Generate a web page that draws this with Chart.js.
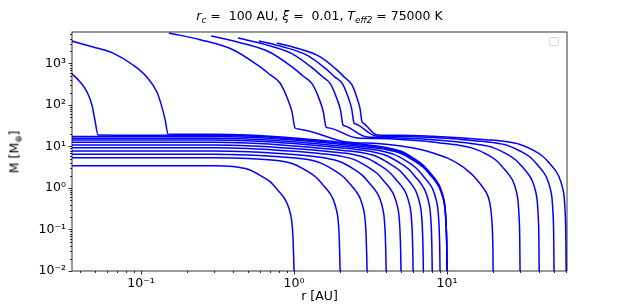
<!DOCTYPE html>
<html>
<head>
<meta charset="utf-8">
<script src="https://cdn.jsdelivr.net/npm/chart.js@4.4.1/dist/chart.umd.min.js"></script>
<style>
  body { margin: 0; background: #fff; }
  #wrap { position: relative; width: 622px; height: 306px; font-family: 'DejaVu Sans', sans-serif; color: #000; }
  #title { position: absolute; left: 72px; width: 495px; top: 8px; text-align: center; font-size: 12.5px; white-space: nowrap; }
  #ylab { position: absolute; left: 14px; top: 152px; transform: translate(-50%, -50%) rotate(-90deg); font-size: 12.5px; white-space: nowrap; }
  sub { font-size: 70%; vertical-align: -0.3em; line-height: 0; }
</style>
</head>
<body>
<div id="wrap">
  <canvas id="myChart" width="622" height="306"></canvas>
  <div id="title"><i>r<sub>c</sub></i> = &nbsp;100 AU, <i>ξ</i> = &nbsp;0.01, <i>T<sub>eff2</sub></i> = 75000 K</div>
  <div id="ylab">M [M<sub>⊕</sub>]</div>
</div>
<script>
// axis ranges and tick labels
const xRange = [0.0354, 60.8];
const yRange = [0.01, 5740];
const xTicks = [0.1, 1, 10];
const xTickLabels = ['10⁻¹', '10⁰', '10¹'];
const yTicks = [0.01, 0.1, 1, 10, 100, 1000];
const yTickLabels = ['10⁻²', '10⁻¹', '10⁰', '10¹', '10²', '10³'];

// tracks [r (AU), M (M_earth)]
// low-mass tracks, final r = 1 ... 10 AU
const m1 = [[0.035,3.45],[0.3,3.45],[0.4,3.28],[0.5,2.82],[0.6,2.02],[0.7,1.40],[0.78,0.90],[0.85,0.62],[0.9,0.43],[0.95,0.23],[0.97,0.14],[0.985,0.062],[0.995,0.020],[1,0.01]];
const m2 = [[0.035,5.37],[0.3,5.37],[0.5,5.16],[0.8,4.53],[1.0,3.74],[1.2,2.64],[1.4,1.79],[1.56,1.14],[1.7,0.78],[1.8,0.54],[1.9,0.28],[1.94,0.176],[1.97,0.077],[1.99,0.024],[2,0.01]];
const m3 = [[0.035,6.49],[0.3,6.49],[0.5,6.23],[0.8,5.65],[1.2,4.91],[1.5,3.97],[1.8,2.76],[2.1,1.87],[2.34,1.21],[2.55,0.82],[2.7,0.57],[2.85,0.30],[2.91,0.184],[2.955,0.080],[2.985,0.025],[3,0.01]];
const m4 = [[0.035,7.79],[0.3,7.79],[0.5,7.48],[1.0,6.39],[1.6,5.29],[2.0,4.30],[2.4,3.02],[2.8,2.02],[3.12,1.29],[3.4,0.875],[3.6,0.61],[3.8,0.32],[3.88,0.197],[3.94,0.086],[3.98,0.027],[4,0.01]];
const m5 = [[0.035,9.35],[0.3,9.35],[0.5,8.98],[1.0,7.67],[1.5,6.73],[2.0,5.90],[2.5,4.77],[3.0,3.30],[3.5,2.23],[3.9,1.42],[4.25,0.96],[4.5,0.67],[4.75,0.35],[4.85,0.218],[4.925,0.095],[4.975,0.030],[5,0.01]];
const m6 = [[0.035,10.9],[0.3,10.9],[0.5,10.46],[1.0,8.94],[1.8,7.36],[2.4,6.50],[3.0,5.19],[3.6,3.60],[4.2,2.40],[4.68,1.54],[5.1,1.05],[5.4,0.74],[5.7,0.38],[5.82,0.237],[5.91,0.104],[5.97,0.033],[6,0.01]];
const m7 = [[0.035,12.6],[0.3,12.6],[0.5,12.1],[1.0,10.33],[2.1,8.06],[2.8,7.03],[3.5,5.68],[4.2,3.89],[4.9,2.64],[5.46,1.69],[5.95,1.14],[6.3,0.79],[6.65,0.41],[6.79,0.255],[6.895,0.111],[6.965,0.035],[7,0.01]];
const m8 = [[0.035,14.3],[0.3,14.3],[0.5,13.73],[1.0,11.73],[2.0,9.30],[2.4,8.79],[3.2,7.56],[4.0,6.08],[4.8,4.23],[5.6,2.86],[6.24,1.82],[6.8,1.23],[7.2,0.85],[7.6,0.446],[7.76,0.275],[7.88,0.120],[7.96,0.038],[8,0.01]];
const m9 = [[0.035,15.8],[0.3,15.8],[0.5,15.17],[1.0,12.96],[2.0,10.27],[2.7,9.24],[3.6,8.05],[4.5,6.45],[5.4,4.48],[6.3,2.99],[7.02,1.90],[7.65,1.29],[8.1,0.90],[8.55,0.468],[8.73,0.290],[8.865,0.126],[8.955,0.040],[9,0.01]];
const m10 = [[0.035,17.4],[0.3,17.4],[0.5,16.7],[1.0,14.27],[2.0,11.3],[3.0,9.74],[4.0,8.44],[5.0,6.80],[6.0,4.71],[7.0,3.13],[7.8,2.01],[8.5,1.35],[9.0,0.94],[9.5,0.494],[9.7,0.306],[9.85,0.134],[9.95,0.043],[10,0.01]];
// massive tracks starting at the inner edge
const h1 = [[0.035,3500],[0.0486,2500],[0.0656,1780],[0.0887,920],[0.109,473],[0.127,205],[0.137,89],[0.144,43],[0.15,20],[0.3,19.6],[0.5,18.8],[1.0,16.07],[2.0,12.7],[3.0,10.97],[4.0,9.5],[5.0,7.66],[6.0,5.3],[7.0,3.52],[7.8,2.26],[8.5,1.52],[9.0,1.06],[9.5,0.556],[9.7,0.345],[9.85,0.151],[9.95,0.048],[10,0.01]];
const h2 = [[0.035,590],[0.040,358],[0.0444,206],[0.0478,100],[0.050,43],[0.0524,18.9],[0.1,18.6],[0.3,18.6],[0.5,17.85],[1.0,15.25],[2.0,12.1],[3.0,10.41],[4.0,9.02],[5.0,7.27],[6.0,5.03],[7.0,3.35],[7.8,2.15],[8.5,1.44],[9.0,1.0],[9.5,0.53],[9.7,0.327],[9.85,0.143],[9.95,0.046],[10,0.01]];
// massive tracks, final r = 20 ... 60 AU
const u1 = [[0.152,5430],[0.243,3750],[0.399,2150],[0.573,936],[0.697,537],[0.81,339],[0.914,132],[0.97,68],[1.015,27.9],[1.083,26.2],[2.2,12.8],[3.5,11.8],[5,10.3],[6.5,8.7],[8.1,7.0],[10,5.3],[12,3.7],[13.5,2.7],[15,1.9],[16.5,1.25],[17.6,0.9],[18.3,0.7],[19,0.45],[19.5,0.22],[19.8,0.09],[19.95,0.03],[20,0.01]];
const u2 = [[0.287,4600],[0.439,3220],[0.690,1890],[0.960,851],[1.145,500],[1.315,322],[1.47,131],[1.552,69.7],[1.619,29.5],[1.681,28.1],[2.6,16.0],[3.49,15.6],[5,14.8],[7,13.5],[9,12.2],[12,10.7],[15,8.9],[18,6.6],[21,4.6],[23.4,3.0],[25.5,2.05],[27,1.45],[28.5,0.77],[29.1,0.48],[29.55,0.21],[29.85,0.067],[30,0.01]];
const u3 = [[0.4305,4110],[0.635,2930],[0.960,1760],[1.297,819],[1.524,492],[1.729,324],[1.913,137],[2.013,75],[2.09,33],[2.151,31.3],[3.0,16.9],[3.49,16.7],[5,16.0],[8,14.6],[12,12.8],[16,11.2],[20,9.4],[24,6.9],[28,4.8],[31.2,3.15],[34,2.15],[36,1.5],[38,0.8],[38.8,0.5],[39.4,0.22],[39.8,0.07],[40,0.01]];
const u4 = [[0.590,3480],[0.840,2540],[1.222,1570],[1.602,762],[1.853,470],[2.078,319],[2.278,141],[2.383,79.6],[2.466,36.8],[2.533,34.7],[3.45,17.9],[5,17.4],[8,16.4],[12,15.0],[15,13.8],[20,12.4],[25,10.5],[30,7.8],[35,5.5],[39,3.6],[42.5,2.45],[45,1.7],[47.5,0.9],[48.5,0.57],[49.25,0.25],[49.75,0.08],[50,0.01]];
const u5 = [[0.774,3120],[1.060,2300],[1.483,1440],[1.89,721],[2.154,452],[2.387,310],[2.589,142],[2.70,81.9],[2.783,38.9],[2.835,36.7],[3.5,19.0],[5,18.6],[8,17.6],[12,16.3],[18,14.6],[24,13.2],[30,11.2],[36,8.4],[42,5.9],[46.8,3.9],[51,2.65],[54,1.85],[57,0.98],[58.2,0.62],[59.1,0.27],[59.7,0.085],[60,0.01]];

const tracks = [m1, m2, m3, m4, m5, m6, m7, m8, m9, m10, h1, h2, u1, u2, u3, u4, u5];

// 1..9 ticks for every decade inside a range
function decadeTicks(range) {
  const out = [];
  for (let e = Math.floor(Math.log10(range[0])); e <= Math.ceil(Math.log10(range[1])); e++) {
    for (let k = 1; k < 10; k++) {
      const v = k * Math.pow(10, e);
      if (v >= range[0] && v <= range[1]) out.push(v);
    }
  }
  return out;
}
const isMajor = v => Math.abs(Math.log10(v) - Math.round(Math.log10(v))) < 1e-6;

const axesPlugin = {
  id: 'axesPlugin',
  afterDraw(chart) {
    const { ctx, chartArea: a, scales: { x, y } } = chart;
    ctx.save();
    ctx.strokeStyle = '#000';
    ctx.lineWidth = 0.8;
    ctx.beginPath();
    for (const v of decadeTicks(xRange)) {
      const px = Math.round(x.getPixelForValue(v)) + 0.5;
      ctx.moveTo(px, a.bottom);
      ctx.lineTo(px, a.bottom + (isMajor(v) ? 3.5 : 2));
    }
    for (const v of decadeTicks(yRange)) {
      const py = Math.round(y.getPixelForValue(v)) + 0.5;
      ctx.moveTo(a.left, py);
      ctx.lineTo(a.left - (isMajor(v) ? 3.5 : 2), py);
    }
    ctx.stroke();
    ctx.strokeRect(a.left, a.top, a.right - a.left, a.bottom - a.top);
    // empty legend frame
    ctx.fillStyle = 'rgba(255,255,255,0.8)';
    ctx.strokeStyle = '#cccccc';
    ctx.beginPath();
    ctx.roundRect(a.right - 17.5, a.top + 5.5, 9, 8, 1.5);
    ctx.fill();
    ctx.stroke();
    ctx.restore();
  }
};

Chart.defaults.font.family = "'DejaVu Sans', sans-serif";
Chart.defaults.font.size = 12.5;
Chart.defaults.color = '#000';

const tickSetter = range => axis => {
  axis.ticks = decadeTicks(range).map(v => ({ value: v }));
};

new Chart(document.getElementById('myChart'), {
  type: 'line',
  data: {
    datasets: tracks.map(t => ({
      data: t.map(p => ({ x: p[0], y: p[1] })),
      borderColor: 'rgb(0, 0, 255)',
      borderWidth: 1.5,
      pointRadius: 0,
      fill: false,
      cubicInterpolationMode: 'monotone'
    }))
  },
  options: {
    responsive: false,
    animation: false,
    devicePixelRatio: 1,
    layout: { padding: { top: 32, right: 55, left: 0, bottom: 0 } },
    plugins: { legend: { display: false }, tooltip: { enabled: false } },
    scales: {
      x: {
        type: 'logarithmic',
        min: xRange[0],
        max: xRange[1],
        grid: { display: false, drawTicks: false },
        border: { display: false },
        afterBuildTicks: tickSetter(xRange),
        afterFit: s => { s.height = 35; },
        ticks: {
          autoSkip: false,
          maxRotation: 0,
          padding: 5,
          callback: v => { const i = xTicks.findIndex(t => Math.abs(t - v) / t < 1e-6); return i >= 0 ? xTickLabels[i] : ''; }
        },
        title: { display: true, text: 'r [AU]', padding: { top: 0, bottom: 2 } }
      },
      y: {
        type: 'logarithmic',
        min: yRange[0],
        max: yRange[1],
        grid: { display: false, drawTicks: false },
        border: { display: false },
        afterBuildTicks: tickSetter(yRange),
        afterFit: s => { s.width = 72; },
        ticks: {
          autoSkip: false,
          padding: 6,
          callback: v => { const i = yTicks.findIndex(t => Math.abs(t - v) / t < 1e-6); return i >= 0 ? yTickLabels[i] : ''; }
        }
      }
    }
  },
  plugins: [axesPlugin]
});
</script>
</body>
</html>
